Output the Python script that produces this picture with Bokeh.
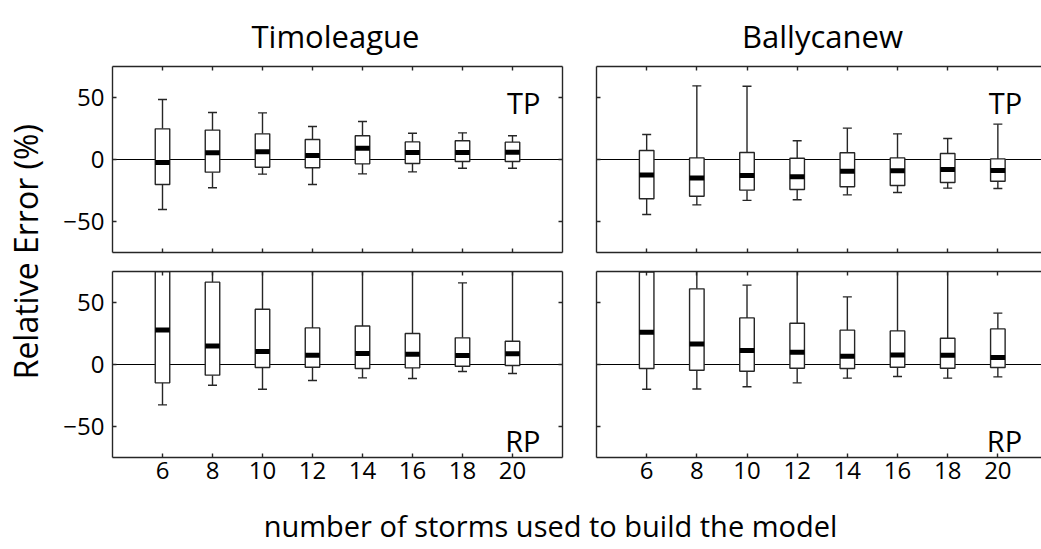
from math import pi
from bokeh.plotting import figure
from bokeh.models import Range1d, FixedTicker, LinearAxis, Span, Label, GridBox, ColumnDataSource
from bokeh.embed import file_html
from bokeh.resources import INLINE

# ---------------- data ----------------
storms = [6, 8, 10, 12, 14, 16, 18, 20]
x_ticks = [6, 8, 10, 12, 14, 16, 18, 20]
y_ticks = [-50, 0, 50]

# Timoleague, TP
tim_tp_lo = [-40.3, -22.8, -11.8, -20.2, -11.6, -10.0, -7.0, -7.0]
tim_tp_q1 = [-20.2, -10.2, -6.2, -6.7, -3.5, -3.2, -1.6, -1.6]
tim_tp_med = [-2.4, 5.4, 6.2, 3.2, 9.1, 5.6, 5.6, 5.9]
tim_tp_q3 = [24.7, 23.7, 20.7, 16.1, 19.1, 14.2, 15.1, 14.0]
tim_tp_hi = [48.4, 37.9, 37.6, 26.6, 30.6, 21.2, 21.5, 19.1]

# Ballycanew, TP
bal_tp_lo = [-44.4, -36.6, -33.0, -32.5, -28.5, -26.6, -23.1, -23.4]
bal_tp_q1 = [-31.7, -29.6, -24.7, -24.2, -22.0, -21.0, -18.5, -17.5]
bal_tp_med = [-12.4, -15.0, -12.9, -14.0, -9.4, -9.1, -8.1, -8.9]
bal_tp_q3 = [7.3, 1.3, 5.6, 1.0, 5.4, 1.3, 4.8, 0.5]
bal_tp_hi = [20.2, 59.4, 59.1, 15.1, 25.3, 20.7, 16.9, 28.5]

# Timoleague, RP
tim_rp_lo = [-32.6, -16.7, -19.9, -12.9, -10.8, -11.3, -5.6, -7.3]
tim_rp_q1 = [-14.8, -8.6, -2.4, -2.2, -3.2, -2.7, -1.4, -0.8]
tim_rp_med = [27.9, 15.0, 10.5, 7.5, 8.9, 8.3, 7.3, 8.6]
tim_rp_q3 = [95.0, 66.4, 44.6, 29.5, 31.1, 25.0, 21.5, 18.8]
tim_rp_hi = [160.0, 110.0, 100.0, 95.0, 90.0, 85.0, 65.8, 80.0]

# Ballycanew, RP
bal_rp_lo = [-19.9, -19.7, -18.0, -14.8, -11.0, -9.7, -11.0, -10.0]
bal_rp_q1 = [-3.2, -4.6, -5.4, -3.0, -3.2, -2.2, -3.0, -2.4]
bal_rp_med = [26.0, 16.6, 11.3, 9.9, 6.7, 7.7, 7.5, 5.6]
bal_rp_q3 = [74.5, 61.0, 37.6, 33.3, 27.7, 27.1, 21.2, 28.7]
bal_rp_hi = [100.0, 90.0, 64.0, 85.0, 54.5, 80.0, 80.0, 41.4]

sites = ["Timoleague", "Ballycanew"]
y_label = "Relative Error (%)"
x_label = "number of storms used to build the model"

# ---------------- style ----------------
FONT = "Open Sans"
LINE = "#262626"
LW = 1.4


def fmt(t):
    return str(t) if t >= 0 else "\u2212" + str(-t)


def style_axis(ax, ticks, show_labels, standoff=6):
    ax.ticker = FixedTicker(ticks=ticks)
    ax.major_tick_in = 4
    ax.major_tick_out = 0
    ax.minor_tick_line_color = None
    ax.axis_line_color = LINE
    ax.axis_line_width = LW
    ax.major_tick_line_color = LINE
    ax.major_tick_line_width = LW
    if show_labels:
        ax.major_label_text_font = FONT
        ax.major_label_text_font_size = "24px"
        ax.major_label_text_color = "black"
        ax.major_label_standoff = standoff
        ax.major_label_overrides = {t: fmt(t) for t in ticks}
    else:
        ax.major_label_text_font_size = "0px"
        ax.major_label_standoff = 0
        ax.major_label_overrides = {t: "" for t in ticks}


def panel(lo, q1, med, q3, hi, left_col, top_row, tag, tag_x, tag_y):
    xmax = 22.0 if left_col else 21.74
    width = 531 if left_col else 462
    height = 203 if top_row else 236
    p = figure(width=width, height=height,
               x_range=Range1d(4, xmax), y_range=Range1d(-75, 75),
               toolbar_location=None, output_backend="svg",
               min_border_left=64 if left_col else 17,
               min_border_right=17 if left_col else 0,
               min_border_top=8 if top_row else 10,
               min_border_bottom=9 if top_row else 40,
               outline_line_color=None, background_fill_color="white",
               border_fill_color="white")
    p.xgrid.visible = False
    p.ygrid.visible = False

    style_axis(p.xaxis[0], x_ticks, not top_row, standoff=4)
    style_axis(p.yaxis[0], y_ticks, left_col, standoff=8)
    top_ax = LinearAxis()
    style_axis(top_ax, x_ticks, False)
    p.add_layout(top_ax, "above")
    if left_col:
        right_ax = LinearAxis()
        style_axis(right_ax, y_ticks, False)
        p.add_layout(right_ax, "right")

    p.add_layout(Span(location=0, dimension="width", line_color="black",
                      line_width=1.2, level="underlay"))

    src = ColumnDataSource(dict(x=storms, lo=lo, q1=q1, med=med, q3=q3, hi=hi))
    p.segment(x0="x", y0="q3", x1="x", y1="hi", source=src, line_color=LINE, line_width=LW)
    p.segment(x0="x", y0="q1", x1="x", y1="lo", source=src, line_color=LINE, line_width=LW)
    p.scatter(x="x", y="hi", marker="dash", size=9, source=src, line_color=LINE, line_width=LW)
    p.scatter(x="x", y="lo", marker="dash", size=9, source=src, line_color=LINE, line_width=LW)
    p.vbar(x="x", width=0.58, bottom="q1", top="q3", source=src,
           fill_color="white", line_color=LINE, line_width=LW)
    p.rect(x="x", y="med", width=0.58, height=5, height_units="screen", source=src,
           fill_color="black", line_color=None)

    p.add_layout(Label(x=tag_x, y=tag_y, text=tag, text_align="right",
                       text_baseline="alphabetic", text_font=FONT,
                       text_font_size="29px", text_color="black"))
    return p


tl = panel(tim_tp_lo, tim_tp_q1, tim_tp_med, tim_tp_q3, tim_tp_hi, True, True,
           "TP", 21.12, 46.2)
tr = panel(bal_tp_lo, bal_tp_q1, bal_tp_med, bal_tp_q3, bal_tp_hi, False, True,
           "TP", 20.97, 46.2)
bl = panel(tim_rp_lo, tim_rp_q1, tim_rp_med, tim_rp_q3, tim_rp_hi, True, False,
           "RP", 21.12, -61.0)
br = panel(bal_rp_lo, bal_rp_q1, bal_rp_med, bal_rp_q3, bal_rp_hi, False, False,
           "RP", 20.97, -61.0)


def text_fig(w, h):
    f = figure(width=w, height=h, x_range=Range1d(0, w), y_range=Range1d(0, h),
               toolbar_location=None, output_backend="svg", min_border=0,
               outline_line_color=None, background_fill_color="white",
               border_fill_color="white")
    f.axis.visible = False
    f.grid.visible = False
    return f


# column titles (centred over each panel frame)
ttl = text_fig(1041, 58)
for name, cx in zip(sites, [335, 822]):
    ttl.add_layout(Label(x=cx, y=23, text=name, text_align="center",
                         text_baseline="alphabetic", text_font=FONT,
                         text_font_size="31px", text_color="black"))

ylab = text_fig(48, 439)
ylab.add_layout(Label(x=25, y=231, text=y_label, angle=pi / 2, text_align="center",
                      text_baseline="middle", text_font=FONT, text_font_size="32px",
                      text_color="black"))

xlab = text_fig(1041, 52)
xlab.add_layout(Label(x=550, y=24, text=x_label, text_align="center",
                      text_baseline="alphabetic", text_font=FONT, text_font_size="29px",
                      text_color="black"))

grid = GridBox(children=[
    (ttl, 0, 0, 1, 3),
    (ylab, 1, 0, 2, 1),
    (tl, 1, 1), (tr, 1, 2),
    (bl, 2, 1), (br, 2, 2),
    (xlab, 3, 0, 1, 3),
], spacing=0)

open("out.html", "w").write(file_html(grid, INLINE))
